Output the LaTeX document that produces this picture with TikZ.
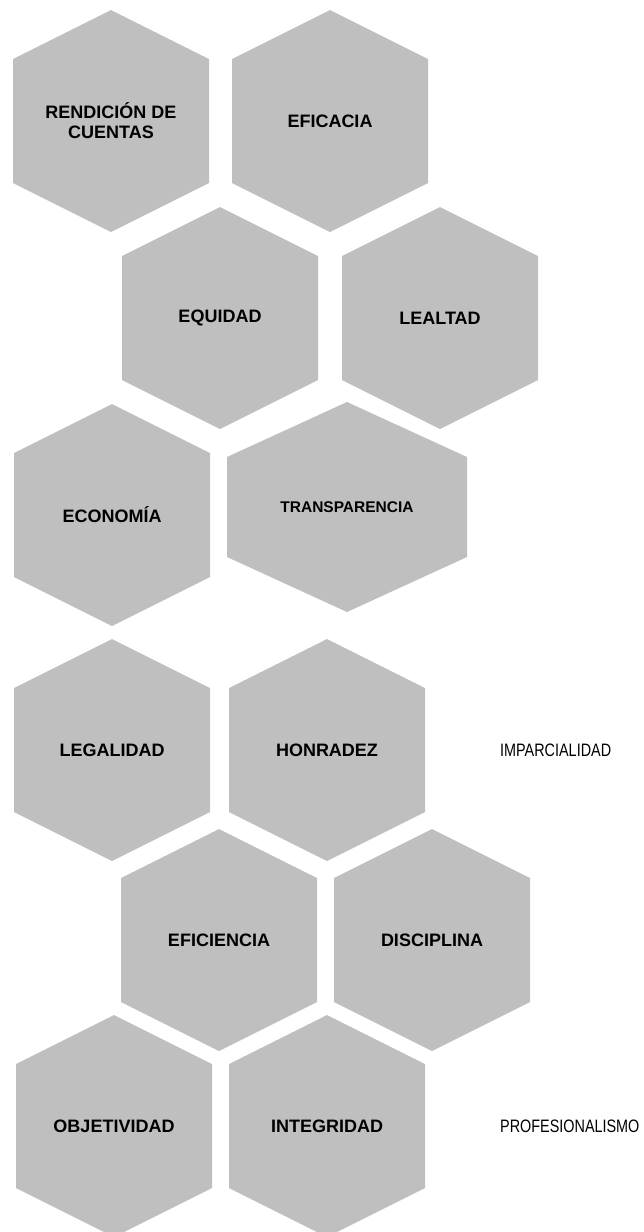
\documentclass[tikz,border=0pt]{standalone}
\usepackage{fontspec}
\setmainfont{Liberation Sans}
\newfontfamily\narrowfont[FakeStretch=0.8]{Liberation Sans}
\usetikzlibrary{positioning,backgrounds}

\begin{document}
\begin{tikzpicture}[x=1pt,y=1pt,on grid,
                    every node/.style={inner sep=0pt}]
  \tikzset{hexlabel/.style={font=\fontsize{18}{20}\selectfont\bfseries,align=center},
           sidelabel/.style={font=\narrowfont\fontsize{18}{20}\selectfont},
           hexcell/.style={fill=black!25}}
  \useasboundingbox (0,0) rectangle (644,-1232);

  \node[hexlabel] (rend) at (111,-121) {RENDICIÓN DE\\CUENTAS};
  \node[hexlabel] (efic) [right=219pt of rend] {EFICACIA};
  \node[hexlabel] (equi) [below right=197pt and 109pt of rend] {EQUIDAD};
  \node[hexlabel] (leal) [right=220pt of equi] {LEALTAD};
  \node[hexlabel] (econ) [below left=197pt and 108pt of equi] {ECONOMÍA};
  \node[hexlabel, font=\fontsize{15.5}{17}\selectfont\bfseries]
                  (trans) [above right=8pt and 235pt of econ] {TRANSPARENCIA};
  \node[hexlabel] (lega) [below=235pt of econ] {LEGALIDAD};
  \node[hexlabel] (honr) [right=215pt of lega] {HONRADEZ};
  \node[sidelabel] (impar) [right=173pt of honr, anchor=west] {IMPARCIALIDAD};
  \node[hexlabel] (efici) [below right=190pt and 107pt of lega] {EFICIENCIA};
  \node[hexlabel] (disc) [right=213pt of efici] {DISCIPLINA};
  \node[hexlabel] (objet) [below left=186pt and 105pt of efici] {OBJETIVIDAD};
  \node[hexlabel] (integ) [right=213pt of objet] {INTEGRIDAD};
  \node[sidelabel] (prof) [right=173pt of integ, anchor=west] {PROFESIONALISMO};

  % hexagons behind the labels
  \begin{scope}[on background layer]
    \foreach \n in {rend,efic,equi,leal,econ,lega,honr,efici,disc,objet,integ}
      \fill[hexcell] (\n.center) ++(0,111) -- ++(98,-49) -- ++(0,-124)
        -- ++(-98,-49) -- ++(-98,49) -- ++(0,124) -- cycle;
    \fill[hexcell] (trans.center) ++(0,105) -- ++(120,-55) -- ++(0,-100)
      -- ++(-120,-55) -- ++(-120,55) -- ++(0,100) -- cycle;
  \end{scope}
\end{tikzpicture}
\end{document}
